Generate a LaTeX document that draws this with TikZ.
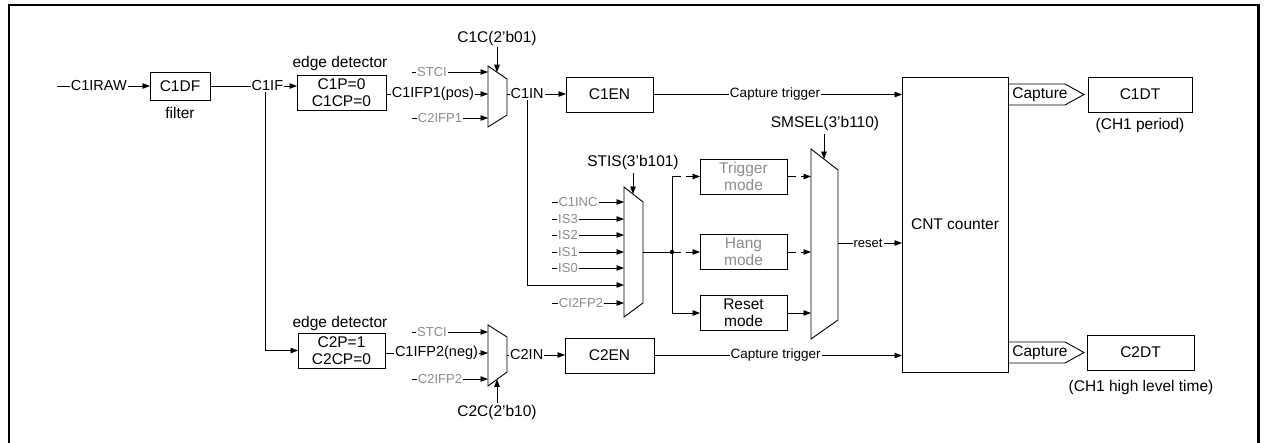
\documentclass[tikz,border=0pt]{standalone}
\usepackage{fontspec}
\setmainfont{Liberation Sans}
\usetikzlibrary{arrows.meta}
\newcommand\fsz[1]{\fontsize{#1}{17}\selectfont}
\definecolor{gtext}{HTML}{8C8C8C}
\begin{document}
\begin{tikzpicture}[x=1pt,y=-1pt,
  every node/.style={inner sep=0pt, outer sep=0pt},
  box/.style={draw, line width=0.9pt, align=center, font=\fsz{15.5}},
  gbox/.style={box, text=gtext},
  shp/.style={draw, line width=0.9pt, line join=miter},
  wire/.style={line width=0.8pt},
  arr/.style={wire, -{Triangle[length=7.5pt,width=5.5pt]}},
  darr/.style={arr, dash pattern=on 9pt off 5pt},
  lbl/.style={fill=white, inner xsep=1pt, inner ysep=0.5pt, font=\fsz{14.5}},
  glbl/.style={lbl, text=gtext, font=\fsz{13}},
  slbl/.style={lbl, font=\fsz{13.5}},
  ttl/.style={font=\fsz{15.5}}
]
\useasboundingbox (0,0) rectangle (1267,442);
\draw[line width=2.5pt] (9,5) rectangle (1258.5,446);

% ---------- upper input chain ----------
\node[box, minimum width=60, minimum height=28] (c1df) at (180,86) {C1DF};
\node[ttl] (filt) at (180,113) {filter};
\coordinate (raw) at (57,86);
\draw[arr] (raw) -- (c1df.west) node[lbl, pos=0.45] (lraw) {C1IRAW};

\node[box, minimum width=89, minimum height=35] (edge1) at (341.5,92.5) {C1P=0\\C1CP=0};
\node[ttl] (edl1) at (340,63) {edge detector};

% C1IF branch down to second edge detector
\node[box, minimum width=87, minimum height=35] (edge2) at (341.5,350.5) {C2P=1\\C2CP=0};
\node[ttl] (edl2) at (340,323) {edge detector};
\coordinate (c1ifb) at (265,86);
\draw[arr] (c1ifb) |- (edge2.west);
\draw[arr] (c1df.east) -- (c1df.east -| edge1.west) node[lbl, pos=0.66] (lc1if) {C1IF};

% ---------- mux 1 ----------
\coordinate (m1a) at (488,72);
\coordinate (m1b) at (488,94);
\coordinate (m1c) at (488,118);
\coordinate (m1o) at (507,94);
\coordinate (m1s) at (497,72.2);
\draw[shp] (488,66) -- (507,79) -- (507,115) -- (488,127) -- cycle;
\node[ttl] (c1c) at (497,38) {C1C(2'b01)};
\draw[arr] (c1c.south) ++(0,2) coordinate (c1cs) -- (m1s);
\coordinate (s1) at (412,72);
\draw[arr] (s1) -- (m1a);
\node[glbl] (ls1) at (432,72) {STCI};
\draw[arr] (edge1.east |- m1b) -- (m1b) node[lbl, pos=0.46] (lp1) {C1IFP1(pos)};
\coordinate (s2) at (412,118);
\draw[arr] (s2) -- (m1c);
\node[glbl] (ls2) at (440,118) {C2IFP1};

\node[box, minimum width=87, minimum height=35] (c1en) at (609.5,94.5) {C1EN};
\coordinate (c1inb) at (527,94);
\coordinate (st6) at (624,285);
\draw[arr] (c1inb) |- (st6);
\draw[arr] (m1o) -- (m1o -| c1en.west) node[lbl, pos=0.34] (lc1in) {C1IN};

% ---------- mux 3 (lower) ----------
\coordinate (m3a) at (488,332);
\coordinate (m3b) at (488,353);
\coordinate (m3c) at (488,379);
\coordinate (m3o) at (507,355);
\coordinate (m3s) at (497,379.4);
\draw[shp] (488,325) -- (507,337) -- (507,372) -- (488,386) -- cycle;
\node[ttl] (c2c) at (497,412) {C2C(2'b10)};
\draw[arr] (c2c.north) ++(0,-2) coordinate (c2cs) -- (m3s);
\coordinate (s3) at (412,332);
\draw[arr] (s3) -- (m3a);
\node[glbl] (ls3) at (432,332) {STCI};
\draw[arr] (edge2.east |- m3b) -- (m3b) node[lbl, pos=0.5] (lp2) {C1IFP2(neg)};
\coordinate (s4) at (412,379);
\draw[arr] (s4) -- (m3c);
\node[glbl] (ls4) at (440,379) {C2IFP2};
\node[box, minimum width=89, minimum height=35] (c2en) at (609.5,355.5) {C2EN};
\draw[arr] (m3o) -- (m3o -| c2en.west) node[lbl, pos=0.34] (lc2in) {C2IN};

% ---------- CNT counter ----------
\node[box, minimum width=106, minimum height=295] (cnt) at (955,224.5) {CNT counter};
\draw[arr] (c1en.east) -- (c1en.east -| cnt.west) node[slbl, pos=0.49] (lct1) {Capture trigger};
\draw[arr] (c2en.east) -- (c2en.east -| cnt.west) node[slbl, pos=0.49] (lct2) {Capture trigger};

% ---------- STIS mux ----------
\draw[shp] (624,187) -- (643,202) -- (643,303) -- (624,317) -- cycle;
\coordinate (sto) at (643,252);
\coordinate (sts) at (633,194);
\node[ttl] (stis) at (633,162) {STIS(3'b101)};
\draw[arr] (633,173) coordinate (stisa) -- (sts);
\foreach \y/\t/\c/\n in {202/C1INC/578/a, 219/IS3/568/b, 235/IS2/568/c, 252/IS1/568/d, 268/IS0/568/e, 303/CI2FP2/581/f}{
  \coordinate (stin\n) at (552,\y);
  \draw[arr] (stin\n) -- (624,\y);
  \node[glbl] (lst\n) at (\c,\y) {\t};
}

% ---------- mode boxes ----------
\node[gbox, minimum width=87, minimum height=35] (trig) at (743.5,176.5) {Trigger\\mode};
\node[gbox, minimum width=87, minimum height=35] (hang) at (743.5,252) {Hang\\mode};
\node[box, minimum width=87, minimum height=35] (rst) at (743.5,313) {Reset\\mode};
\coordinate (jn) at (672,252);
\draw[wire] (sto) -- (jn);
\draw[wire] (jn |- trig.west) -- (jn |- rst.west);
\fill (jn) circle (2.2);
\draw[darr] (jn |- trig.west) -- (trig.west);
\draw[darr] (jn) -- (hang.west);
\draw[arr] (jn |- rst.west) -- (rst.west);

% ---------- SMSEL mux ----------
\draw[shp] (811,149) -- (838,170) -- (838,320) -- (811,339) -- cycle;
\coordinate (sm1) at (811,176.5);
\coordinate (sm2) at (811,252);
\coordinate (sm3) at (811,313);
\coordinate (smo) at (838,243);
\coordinate (sms) at (824,159);
\node[ttl] (smsel) at (825,123) {SMSEL(3'b110)};
\draw[arr] (824,134) coordinate (smsa) -- (sms);
\draw[darr] (trig.east) -- (sm1);
\draw[darr] (hang.east) -- (sm2);
\draw[arr] (rst.east) -- (sm3);
\draw[arr] (smo) -- (smo -| cnt.west) node[lbl, font=\fsz{13}, pos=0.47] (lrst) {reset};

% ---------- capture outputs ----------
\draw[shp] (cnt.east |- 0,84) -- (1065,84) -- (1084,94.5) -- (1065,105) -- (cnt.east |- 0,105);
\node[ttl] (cap1) at (1040,94.5) {Capture};
\node[box, minimum width=104, minimum height=35] (c1dt) at (1140,94.5) {C1DT};
\node[ttl] (p1) at (1140,125) {(CH1 period)};

\draw[shp] (cnt.east |- 0,342) -- (1065,342) -- (1084,352.5) -- (1065,363) -- (cnt.east |- 0,363);
\node[ttl] (cap2) at (1040,352.5) {Capture};
\node[box, minimum width=107, minimum height=35] (c2dt) at (1140.5,352.5) {C2DT};
\node[ttl] (p2) at (1141,387) {(CH1 high level time)};
\end{tikzpicture}
\end{document}
